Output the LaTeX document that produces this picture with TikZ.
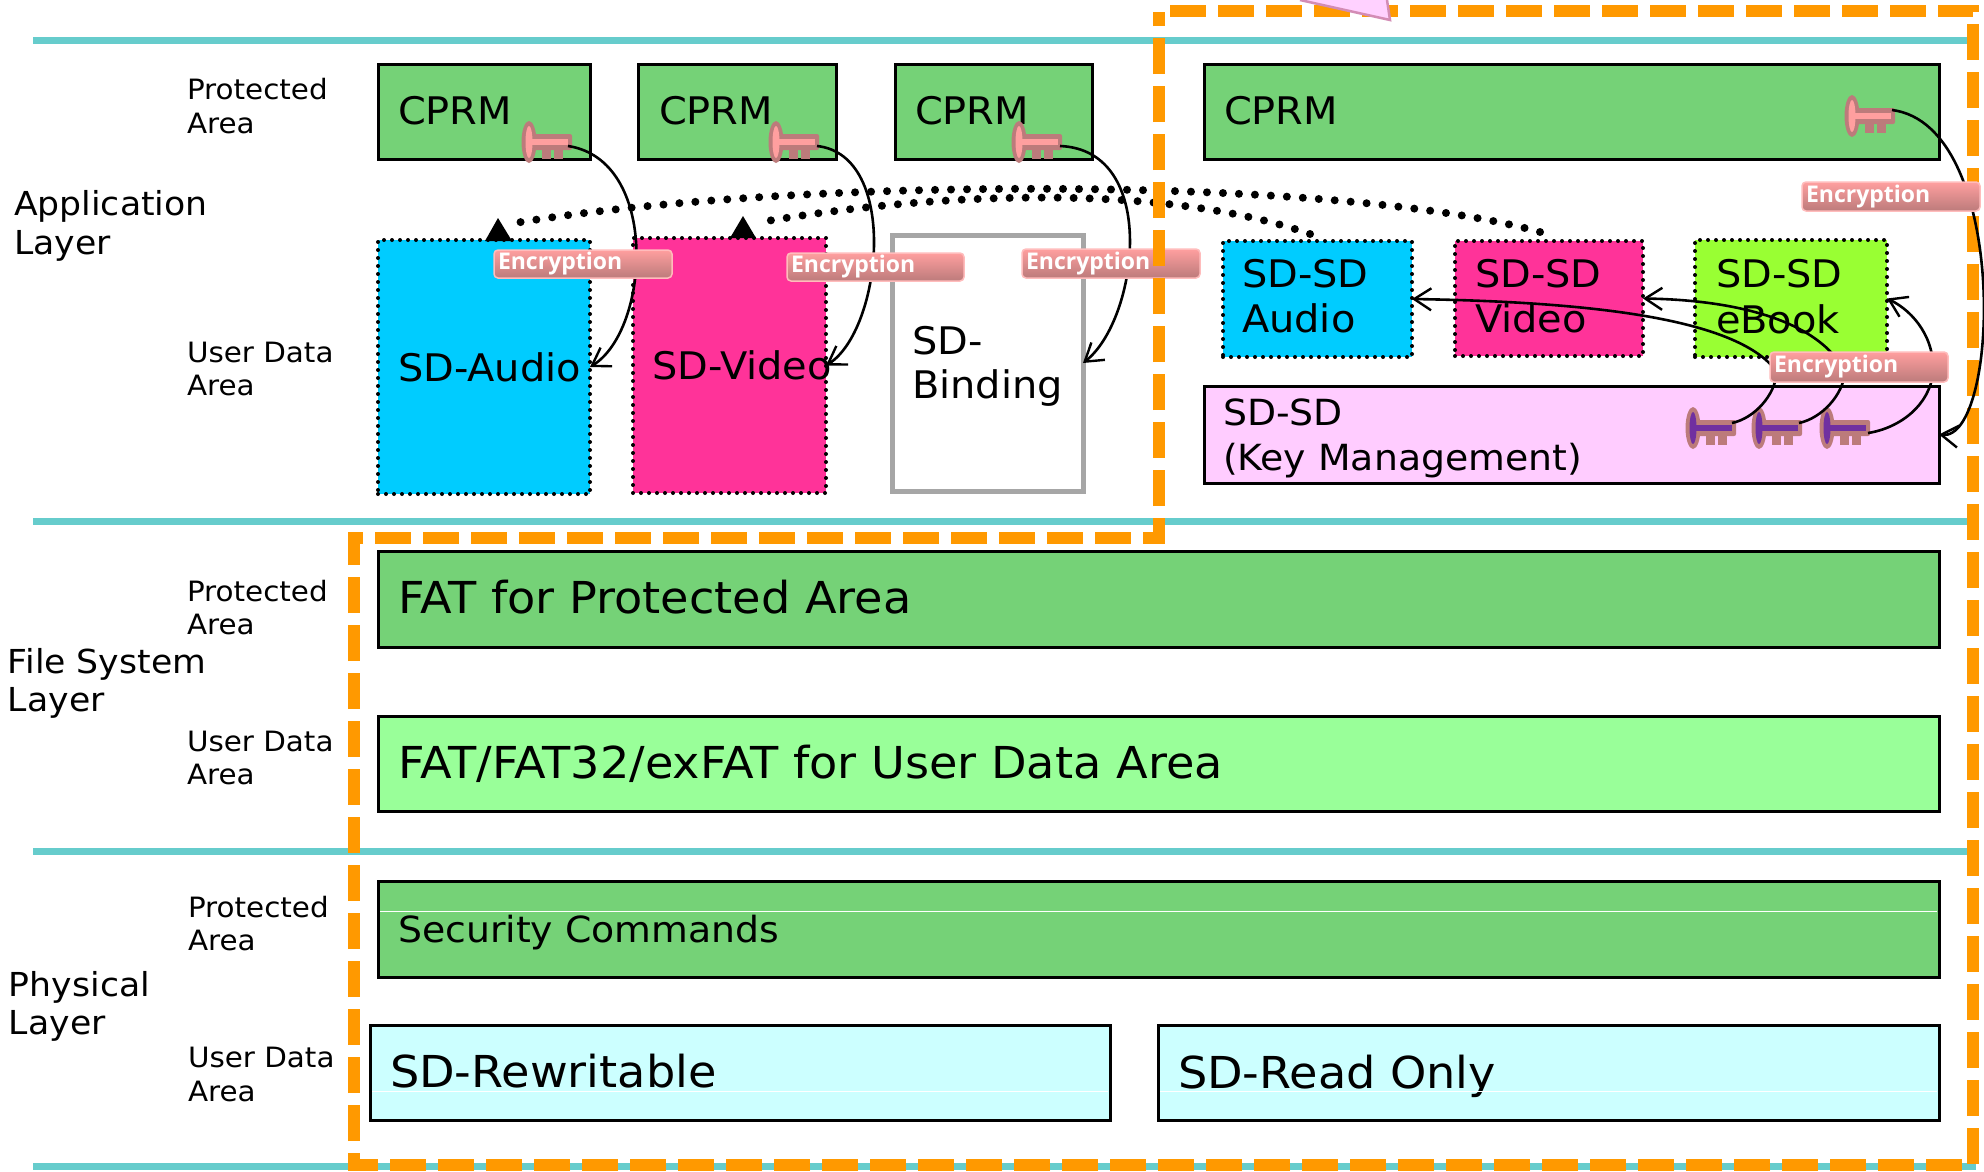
\documentclass[tikz,border=0pt]{standalone}
\usepackage{fontspec}
\usetikzlibrary{arrows.meta}
\newfontfamily\vf[FakeStretch=1.05]{DejaVu Sans}
\newfontfamily\ef{Open Sans}
\definecolor{teal1}{HTML}{66CCCC}
\definecolor{org}{HTML}{FF9900}
\definecolor{grn}{HTML}{75D277}
\definecolor{lgrn}{HTML}{99FF99}
\definecolor{cyan1}{HTML}{00CCFF}
\definecolor{mag1}{HTML}{FF3399}
\definecolor{lime1}{HTML}{99FF33}
\definecolor{pink1}{HTML}{FFCCFF}
\definecolor{pale}{HTML}{CCFFFF}
\definecolor{keyo}{HTML}{BC7B7B}
\definecolor{keyp}{HTML}{FF9F9F}
\definecolor{keyv}{HTML}{7030A0}
\tikzset{
 solidbox/.style={draw=black,line width=3pt,fill=#1,inner sep=0,outer sep=0},
 dotbox/.style={draw=black,line width=4pt,line cap=round,dash pattern=on 0pt off 8pt,fill=#1,inner sep=0,outer sep=0},
 lbl/.style={anchor=base west,inner sep=0,outer sep=0,text=black,font=\vf\fontsize{#1pt}{#1pt}\selectfont},
 enc/.style={draw=keyp!70!white,line width=1.5pt,rounded corners=4pt,top color=keyp,bottom color=keyo,inner sep=0,outer sep=0},
 enct/.style={anchor=west,inner sep=0,outer sep=0,text=white,font=\ef\bfseries\fontsize{23pt}{23pt}\selectfont},
 barb/.style={black,line width=2.6pt,-{Straight Barb[length=17pt,width=22pt,line width=2.4pt]}},
 plain/.style={black,line width=2.6pt},
 dots/.style={black,line width=8pt,line cap=round,dash pattern=on 0pt off 16pt},
 layer/.style={teal1,line width=7pt},
 x=1pt,y=-1pt
}
\newcommand\bx[6]{\node[#1,minimum width={(#5-#3)*1pt},minimum height={(#6-#4)*1pt}] (#2) at ({(#3+#5)/2},{(#4+#6)/2}) {};}
\newcommand\enc[5]{\node[enc,minimum width={(#4-#2)*1pt},minimum height={(#5-#3)*1pt}] (#1) at ({(#2+#4)/2},{(#3+#5)/2}) {};
 \node[enct] (#1t) at ({#2+4},{(#3+#5)/2}) {Encryption};}
\newcommand\keyic[3]{%
 \begin{scope}[shift={(#1,#2)}]
 \fill[keyo] (0,0) ellipse [x radius=7.5pt,y radius=21pt];
 \fill[keyo,rounded corners=2pt] (0,-8) rectangle (43,8);
 \fill[keyo] (13,0) rectangle (22,17);
 \fill[keyo] (25,0) rectangle (34,17);
 \fill[#3] (0,0) ellipse [x radius=3.5pt,y radius=16pt];
 \fill[#3] (0,-3) rectangle (39,3);
 \end{scope}}
\begin{document}
\begin{tikzpicture}
\useasboundingbox (0,0) rectangle (1984,1171);
\fill[white] (0,0) rectangle (1984,1171);
% layer lines
\coordinate (la) at (33,40.5); \coordinate (lb) at (1976,40.5);
\coordinate (lc) at (33,521); \coordinate (ld) at (1976,521);
\coordinate (le) at (33,851); \coordinate (lf) at (1976,851);
\coordinate (lg) at (33,1166); \coordinate (lh) at (1976,1166);
\draw[layer] (la) -- (lb); \draw[layer] (lc) -- (ld); \draw[layer] (le) -- (lf); \draw[layer] (lg) -- (lh);
% boxes
\bx{solidbox=grn}{c1}{378}{64}{590}{159}
\bx{solidbox=grn}{c2}{638}{64}{836}{159}
\bx{solidbox=grn}{c3}{895}{64}{1092}{159}
\bx{solidbox=grn}{c4}{1204}{64}{1939}{159}
\bx{dotbox=cyan1}{audio}{378}{240}{590}{494}
\bx{dotbox=mag1}{video}{633}{238}{826}{493}
\node[draw=black!35,line width=5pt,fill=white,inner sep=0,outer sep=0,minimum width=191pt,minimum height=256pt] (binding) at (987.5,363) {};
\bx{dotbox=cyan1}{ssa}{1223}{241}{1412}{357}
\bx{dotbox=mag1}{ssv}{1455}{241}{1643}{356}
\bx{dotbox=lime1}{sse}{1695}{240}{1887}{357}
\bx{solidbox=pink1}{km}{1204}{386}{1939}{483}
\bx{solidbox=grn}{fatp}{378}{551}{1939}{647}
\bx{solidbox=lgrn}{fatu}{378}{716}{1939}{811}
\bx{solidbox=grn}{sec}{378}{881}{1939}{977}
\bx{solidbox=pale}{rw}{370}{1025}{1110}{1120}
\bx{solidbox=pale}{ro}{1158}{1025}{1939}{1120}
% box texts
\node[lbl=38] (tc1) at (398,124) {CPRM};
\node[lbl=38] (tc2) at (659,124) {CPRM};
\node[lbl=38] (tc3) at (915,124) {CPRM};
\node[lbl=38] (tc4) at (1224,124) {CPRM};
\node[lbl=38] (tau) at (398,381) {SD-Audio};
\node[lbl=38] (tvi) at (652,379) {SD-Video};
\node[lbl=38] (tb1) at (912,354) {SD-};
\node[lbl=38] (tb2) at (912,398) {Binding};
\node[lbl=38] (tsa1) at (1242,287) {SD-SD};
\node[lbl=38] (tsa2) at (1242,332) {Audio};
\node[lbl=38] (tsv1) at (1475,287) {SD-SD};
\node[lbl=38] (tsv2) at (1475,332) {Video};
\node[lbl=38] (tse1) at (1716,287) {SD-SD};
\node[lbl=38] (tse2) at (1716,333) {eBook};
\node[lbl=36] (tk1) at (1223,425) {SD-SD};
\node[lbl=36] (tk2) at (1223,470) {(Key Management)};
\node[lbl=44] (tfp) at (398,613) {FAT for Protected Area};
\node[lbl=44] (tfu) at (398,778) {FAT/FAT32/exFAT for User Data Area};
\node[lbl=36] (tsec) at (398,942) {Security Commands};
\node[lbl=44] (trw) at (390,1087) {SD-Rewritable};
\node[lbl=44] (tro) at (1178,1088) {SD-Read Only};
% left texts
\node[lbl=33] (l1a) at (14,215) {Application};
\node[lbl=33] (l1b) at (14,254) {Layer};
\node[lbl=33] (l2a) at (8,673) {File System};
\node[lbl=33] (l2b) at (8,711) {Layer};
\node[lbl=33] (l3a) at (9,996) {Physical};
\node[lbl=33] (l3b) at (9,1034) {Layer};
\node[lbl=28] (p1a) at (187,99) {Protected};
\node[lbl=28] (p1b) at (187,133) {Area};
\node[lbl=28] (u1a) at (187,362) {User Data};
\node[lbl=28] (u1b) at (187,395) {Area};
\node[lbl=28] (p2a) at (187,601) {Protected};
\node[lbl=28] (p2b) at (187,634) {Area};
\node[lbl=28] (u2a) at (187,751) {User Data};
\node[lbl=28] (u2b) at (187,784) {Area};
\node[lbl=28] (p3a) at (188,917) {Protected};
\node[lbl=28] (p3b) at (188,950) {Area};
\node[lbl=28] (u3a) at (188,1067) {User Data};
\node[lbl=28] (u3b) at (188,1101) {Area};
% white hairlines
\coordinate (h1a) at (380,911); \coordinate (h1b) at (1937,911);
\coordinate (h2a) at (372,1091); \coordinate (h2b) at (1108,1091);
\coordinate (h3a) at (1160,1091); \coordinate (h3b) at (1937,1091);
\draw[white,line width=.8pt] (h1a) -- (h1b); \draw[white,line width=.8pt] (h2a) -- (h2b); \draw[white,line width=.8pt] (h3a) -- (h3b);
% keys
\keyic{529}{142}{keyp}
\keyic{776}{142}{keyp}
\keyic{1019}{142}{keyp}
\keyic{1852}{116}{keyp}
\keyic{1693}{428}{keyv}
\keyic{1759}{428}{keyv}
\keyic{1827}{428}{keyv}
\coordinate (k1) at (568,146);
\coordinate (k2) at (817,146);
\coordinate (k3) at (1060,146);
\coordinate (k4) at (1892,110);
\coordinate (ka) at (1732,423);
\coordinate (kb) at (1799,423);
\coordinate (kc) at (1868,433);
% dotted arcs
\coordinate (d1s) at (1540,232); \coordinate (d1e) at (515,223);
\coordinate (d2s) at (1310,234); \coordinate (d2e) at (761,222);
\draw[dots] (d1s) .. controls (1340,176) and (800,176) .. (d1e);
\draw[dots] (d2s) .. controls (1170,185) and (950,190) .. (d2e);
\fill[black] (498,218) -- (485,241) -- (512,241) -- cycle;
\fill[black] (743,216) -- (730,238) -- (756,238) -- cycle;
% curves
\draw[barb] (k1) .. controls (660,160) and (650,330) .. (audio.east);
\draw[barb] (k2) .. controls (900,155) and (882,330) .. (video.east);
\draw[barb] (k3) .. controls (1160,150) and (1138,320) .. (binding.east);
\draw[plain] (ka) .. controls (1755,418) and (1775,395) .. (1777,372);
\draw[barb] (1777,372) .. controls (1740,320) and (1600,302) .. (ssa.east);
\draw[plain] (kb) .. controls (1822,418) and (1843,395) .. (1845,372);
\draw[barb] (1845,372) .. controls (1820,322) and (1740,300) .. (ssv.east);
\draw[plain] (kc) .. controls (1900,428) and (1930,405) .. (1933,372);
\draw[barb] (1933,372) .. controls (1935,340) and (1915,312) .. (sse.east);
% encryption labels
\enc{e1}{494}{250}{672}{278}
\enc{e2}{787}{253}{964}{281}
\enc{e3}{1022}{249}{1200}{278}
\enc{e5}{1770}{352}{1948}{382}
% orange frame
\coordinate (o1) at (1170,11); \coordinate (o2) at (1973,11); \coordinate (o3) at (1973,1165);
\coordinate (o4) at (354,1165); \coordinate (o5) at (354,538); \coordinate (o6) at (1159,538); \coordinate (o7) at (1159,12);
\draw[org,line width=12pt,dash pattern=on 36pt off 12pt] (o1) -- (o2) -- (o3) -- (o4) -- (o5) -- (o6) -- (o7);
% callout fragment
\draw[fill=pink1!60!magenta!35!white,draw=magenta!50!gray!70,line width=2.5pt] (1300,0) -- (1390,20) -- (1387,0);
% right key curve and label
\draw[barb] (k4) .. controls (2010,125) and (2000,441) .. (km.east);
\enc{e4}{1802}{182}{1980}{211}
\end{tikzpicture}
\end{document}
